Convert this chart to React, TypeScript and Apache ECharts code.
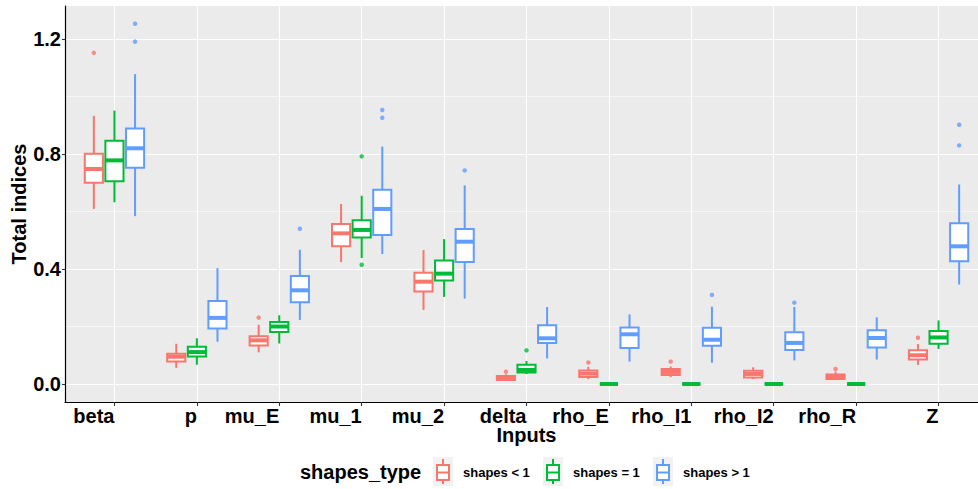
import React, { useEffect, useRef } from "react";
import * as echarts from "echarts";

const categories = ["beta", "p", "mu_E", "mu_1", "mu_2", "delta", "rho_E", "rho_I1", "rho_I2", "rho_R", "Z"];
const groupNames = ["shapes < 1", "shapes = 1", "shapes > 1"];
const groupColors = ["#F8766D", "#00BA38", "#619CFF"];
const yTicks = [0, 0.4, 0.8, 1.2];
const yMinorTicks = [0.2, 0.6, 1.0];

// [lower whisker, Q1, median, Q3, upper whisker]
const statsLt1 = [
  [0.609, 0.7, 0.748, 0.801, 0.933],
  [0.056, 0.078, 0.095, 0.105, 0.14],
  [0.11, 0.134, 0.152, 0.166, 0.206],
  [0.424, 0.479, 0.524, 0.557, 0.626],
  [0.258, 0.322, 0.356, 0.387, 0.466],
  [0.011, 0.014, 0.02, 0.028, 0.034],
  [0.017, 0.024, 0.036, 0.047, 0.06],
  [0.024, 0.031, 0.042, 0.052, 0.061],
  [0.017, 0.023, 0.035, 0.046, 0.058],
  [0.014, 0.017, 0.026, 0.033, 0.043],
  [0.066, 0.085, 0.1, 0.117, 0.139],
];
const statsEq1 = [
  [0.632, 0.705, 0.778, 0.846, 0.951],
  [0.067, 0.096, 0.111, 0.13, 0.159],
  [0.141, 0.181, 0.2, 0.216, 0.239],
  [0.438, 0.51, 0.536, 0.57, 0.655],
  [0.303, 0.36, 0.384, 0.43, 0.504],
  [0.035, 0.04, 0.049, 0.067, 0.08],
  [0, 0, 0, 0, 0],
  [0, 0, 0, 0, 0],
  [0, 0, 0, 0, 0],
  [0, 0, 0, 0, 0],
  [0.122, 0.14, 0.162, 0.184, 0.221],
];
const statsGt1 = [
  [0.584, 0.752, 0.82, 0.889, 1.078],
  [0.147, 0.193, 0.23, 0.289, 0.403],
  [0.223, 0.284, 0.326, 0.376, 0.467],
  [0.452, 0.518, 0.609, 0.676, 0.826],
  [0.297, 0.424, 0.495, 0.539, 0.691],
  [0.089, 0.143, 0.159, 0.204, 0.268],
  [0.078, 0.125, 0.173, 0.197, 0.242],
  [0.074, 0.133, 0.154, 0.196, 0.269],
  [0.082, 0.118, 0.143, 0.18, 0.268],
  [0.085, 0.127, 0.16, 0.187, 0.232],
  [0.346, 0.427, 0.479, 0.559, 0.694],
];
// [category index (0-based), value]
const outliersLt1 = [[0, 1.152], [2, 0.231], [5, 0.043], [6, 0.075], [7, 0.078], [9, 0.052], [10, 0.161]];
const outliersEq1 = [[3, 0.792], [3, 0.415], [5, 0.117]];
const outliersGt1 = [[0, 1.253], [0, 1.191], [2, 0.54], [3, 0.953], [3, 0.926], [4, 0.743], [7, 0.31], [8, 0.283], [10, 0.902], [10, 0.83]];

const allStats = [statsLt1, statsEq1, statsGt1];
const allOutliers = [outliersLt1, outliersEq1, outliersGt1];
const dodge = [-0.25, 0, 0.25];
const FONT = '"Liberation Sans", Arial, Helvetica, sans-serif';

export default function App() {
  const ref = useRef<HTMLDivElement>(null);
  useEffect(() => {
    if (!ref.current) return;
    const chart = echarts.init(ref.current, null, { renderer: "svg" });
    const series: any[] = [];
    allStats.forEach((stats, g) => {
      const color = groupColors[g];
      series.push({
        type: "custom",
        name: groupNames[g],
        xAxisIndex: 0,
        yAxisIndex: 0,
        data: stats.map((s, i) => [i + 1 + dodge[g], ...s]),
        encode: { x: 0, y: [1, 2, 3, 4, 5] },
        renderItem: (params: any, api: any) => {
          const x = api.value(0);
          const lo = api.coord([x, api.value(1)]);
          const q1 = api.coord([x, api.value(2)]);
          const md = api.coord([x, api.value(3)]);
          const q3 = api.coord([x, api.value(4)]);
          const hi = api.coord([x, api.value(5)]);
          const w = api.size([0.22, 0])[0];
          const cx = lo[0];
          return {
            type: "group",
            children: [
              { type: "line", shape: { x1: cx, y1: hi[1], x2: cx, y2: q3[1] }, style: { stroke: color, lineWidth: 2 } },
              { type: "line", shape: { x1: cx, y1: q1[1], x2: cx, y2: lo[1] }, style: { stroke: color, lineWidth: 2 } },
              { type: "rect", shape: { x: cx - w / 2, y: q3[1], width: w, height: q1[1] - q3[1] }, style: { fill: "#ffffff", stroke: color, lineWidth: 2 } },
              { type: "line", shape: { x1: cx - w / 2, y1: md[1], x2: cx + w / 2, y2: md[1] }, style: { stroke: color, lineWidth: 4 } },
            ],
          };
        },
      });
    });
    allOutliers.forEach((outs, g) => {
      series.push({
        type: "scatter",
        xAxisIndex: 0,
        yAxisIndex: 0,
        symbol: "circle",
        symbolSize: 4.5,
        itemStyle: { color: groupColors[g] },
        data: outs.map(([i, v]) => [i + 1 + dodge[g], v]),
        z: 3,
      });
    });

    const legendChildren: any[] = [
      { type: "text", x: 300, y: 472, style: { text: "shapes_type", font: `bold 20px ${FONT}`, fill: "#000", verticalAlign: "middle" } },
    ];
    const keyX = [433, 543, 653];
    groupNames.forEach((n, g) => {
      const kx = keyX[g];
      const c = groupColors[g];
      legendChildren.push(
        { type: "rect", shape: { x: kx, y: 457, width: 20, height: 29 }, style: { fill: "#F2F2F2" } },
        { type: "line", shape: { x1: kx + 10, y1: 459, x2: kx + 10, y2: 484 }, style: { stroke: c, lineWidth: 2 } },
        { type: "rect", shape: { x: kx + 4, y: 465, width: 12, height: 15 }, style: { fill: "#fff", stroke: c, lineWidth: 2 } },
        { type: "line", shape: { x1: kx + 4, y1: 472.5, x2: kx + 16, y2: 472.5 }, style: { stroke: c, lineWidth: 2 } },
        { type: "text", x: kx + 30, y: 472, style: { text: n, font: `bold 13px ${FONT}`, fill: "#000", verticalAlign: "middle" } }
      );
    });

    chart.setOption({
      animation: false,
      grid: {
        left: 65,
        right: -10,
        top: 6,
        bottom: 87,
        show: true,
        backgroundColor: "#EBEBEB",
        borderWidth: 0,
        containLabel: false,
        outerBoundsMode: "none",
      },
      xAxis: {
        type: "value",
        min: 0.4,
        max: 11.6,
        axisLine: { show: true, onZero: false, lineStyle: { color: "#000", width: 1.2 } },
        axisTick: { show: true, customValues: categories.map((_, i) => i + 1), length: 4, lineStyle: { color: "#333", width: 1.1 } },
        axisLabel: {
          customValues: categories.map((_, i) => i + 1),
          formatter: (v: number) => categories[Math.round(v) - 1] ?? "",
          align: "right",
          margin: 4,
          fontSize: 20,
          fontWeight: "bold",
          color: "#000",
          fontFamily: FONT,
        },
        splitLine: { show: true, lineStyle: { color: "#fff", width: 1.1 } },
        name: "Inputs",
        nameLocation: "middle",
        nameGap: 23,
        nameMoveOverlap: false,
        nameTextStyle: { fontSize: 20, fontWeight: "bold", color: "#000", fontFamily: FONT },
      },
      yAxis: [
        {
          type: "value",
          min: -0.0626,
          max: 1.315,
          axisLine: { show: true, lineStyle: { color: "#000", width: 1.2 } },
          axisTick: { show: true, customValues: yTicks, length: 3, lineStyle: { color: "#333", width: 1.1 } },
          axisLabel: {
            customValues: yTicks,
            formatter: (v: number) => v.toFixed(1),
            margin: 4,
            fontSize: 20,
            fontWeight: "bold",
            color: "#000",
            fontFamily: FONT,
          },
          splitLine: { show: true, lineStyle: { color: "#fff", width: 1.1 } },
          name: "Total indices",
          nameLocation: "middle",
          nameGap: 36,
          nameMoveOverlap: false,
          nameTextStyle: { fontSize: 20, fontWeight: "bold", color: "#000", fontFamily: FONT },
        },
        {
          type: "value",
          min: -0.0626,
          max: 1.315,
          position: "left",
          axisLine: { show: false },
          axisTick: { show: false, customValues: yMinorTicks },
          axisLabel: { show: false, customValues: yMinorTicks },
          splitLine: { show: true, lineStyle: { color: "#fff", width: 0.55 } },
        },
      ],
      series,
      graphic: legendChildren,
    });
    return () => chart.dispose();
  }, []);
  return <div ref={ref} style={{ width: 978, height: 489, position: "absolute", left: 0, top: 0 }} />;
}
